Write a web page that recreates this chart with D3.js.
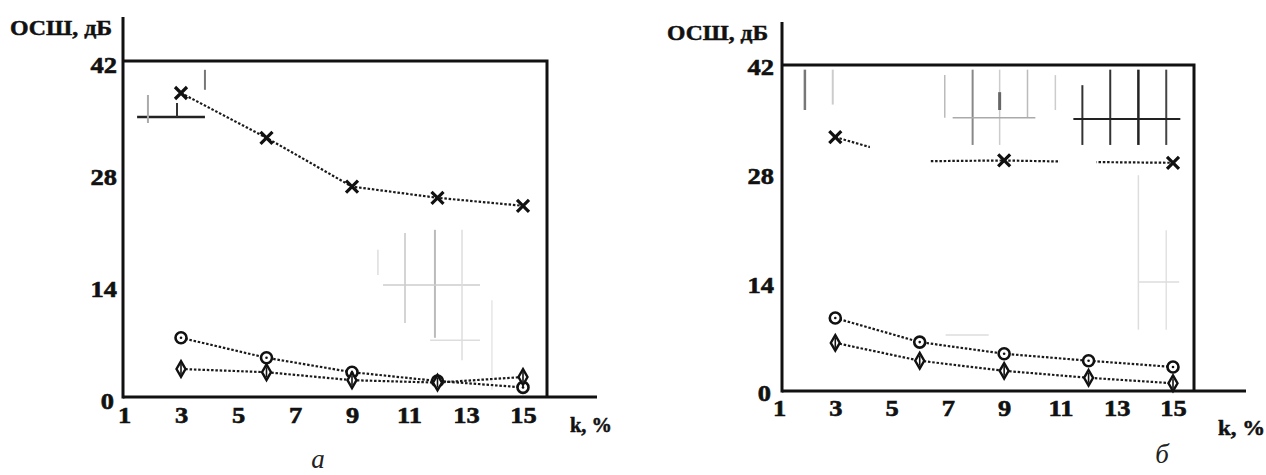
<!DOCTYPE html>
<html><head><meta charset="utf-8">
<script src="https://cdn.jsdelivr.net/npm/d3@7"></script>
<style>
body{margin:0;background:#fff}
svg{display:block}
</style>
</head><body>
<svg id="c" width="1266" height="475"></svg>
<script>
// ---- data ----
const kValues = [3, 6, 9, 12, 15];
const crossA   = [38.0, 32.4, 26.3, 24.9, 23.9];
const circleA  = [7.4, 4.9, 3.1, 2.0, 1.2];
const diamondA = [3.5, 3.1, 2.1, 1.8, 2.5];
const crossB   = [32.7, 29.6, 29.7, 29.5, 29.4];
const circleB  = [9.4, 6.3, 4.8, 3.9, 3.1];
const diamondB = [6.2, 3.9, 2.6, 1.7, 1.0];
const xTicks = [1, 3, 5, 7, 9, 11, 13, 15];
const yTicks = [0, 14, 28, 42];
const yTitle = "ОСШ, дБ";
const xTitle = "k, %";
const captions = ["а", "б"];
// visible k ranges of the scanned cross curve in panel б (gaps in the print)
const crossBVisible = [[2.5, 4.23], [6.35, 10.96], [12.28, 15.5]];
// faint scan remnants, in data units: [k1, v1, k2, v2, colour, width]
const scanA = [
  [1.46, 35, 3.84, 35, "#222", 2.5], [2.86, 35, 2.86, 36.75, "#333", 2],
  [1.84, 34.25, 1.84, 37.75, "#aaa", 2], [3.84, 38.4, 3.84, 40.9, "#777", 2],
  [10.86, 9.25, 10.86, 20.5, "#d4d4d4", 2], [11.91, 7.4, 11.91, 20.9, "#bbb", 2],
  [10.09, 14, 13.49, 14, "#ccc", 1.5], [11.74, 7.1, 13.49, 7.1, "#ddd", 1.5],
  [12.86, 4.6, 12.86, 20.9, "#ddd", 1.5], [9.91, 15.25, 9.91, 18.4, "#ddd", 1.5],
  [13.91, 0.9, 13.91, 12.1, "#e6e6e6", 1.5]
];
const scanB = [
  [1.92, 36.2, 1.92, 41.4, "#777", 2.5], [2.91, 36.9, 2.91, 41.4, "#ccc", 2],
  [6.89, 35.2, 6.89, 40.7, "#bbb", 1.5], [7.88, 31.7, 7.88, 41.4, "#888", 2],
  [8.84, 31.7, 8.84, 41.4, "#ccc", 1.5], [8.84, 36.2, 8.84, 38.5, "#666", 3],
  [9.83, 35.2, 9.83, 41.4, "#bbb", 1.5], [10.82, 36.2, 10.82, 40.7, "#ccc", 1.5],
  [11.78, 31.7, 11.78, 39.4, "#333", 2], [12.77, 31.7, 12.77, 41.4, "#333", 2],
  [13.77, 31.7, 13.77, 41.4, "#222", 2.5], [14.76, 31.7, 14.76, 41.4, "#444", 2],
  [7.17, 35.2, 10.11, 35.2, "#aaa", 1.5], [11.46, 35.05, 15.26, 35.05, "#222", 2],
  [13.77, 7.9, 13.77, 27.8, "#ddd", 1.5], [14.76, 7.9, 14.76, 20.7, "#e2e2e2", 1.5],
  [13.77, 14.05, 15.22, 14.05, "#ddd", 1.5], [6.92, 7.2, 8.45, 7.2, "#ddd", 1.5]
];

// ---- layout ----
const FONT = "'Liberation Serif', 'Times New Roman', 'DejaVu Serif', serif";
const panels = [
  {cross: crossA, circle: circleA, diamond: diamondA, scan: scanA, visible: null,
   ax: 123, k1: 124, k15: 523, xR: 547, xEnd: 597, y0: 397, yT: 61, axTop: 17,
   titleX: 10, titleY: 35, titleW: 102, xLabY: 26, yDy: "0.5em", yPad: 6,
   xtX: 570, xtY: 432, xtW: 42, capX: 318, capY: 468, cap: captions[0]},
  {cross: crossB, circle: circleB, diamond: diamondB, scan: scanB, visible: crossBVisible,
   ax: 782, k1: 779, k15: 1173, xR: 1194, xEnd: 1246, y0: 391, yT: 65, axTop: 22,
   titleX: 667, titleY: 40, titleW: 101, xLabY: 25, yDy: "0.42em", yPad: 8,
   xtX: 1218, xtY: 435, xtW: 47, capX: 1162, capY: 463, cap: captions[1]}
];

const svg = d3.select("#c");
const SX = 1.15;

panels.forEach((p, pi) => {
  const x = d3.scaleLinear().domain([1, 15]).range([p.k1, p.k15]);
  const y = d3.scaleLinear().domain([0, 42]).range([p.y0, p.yT]);
  const g = svg.append("g");

  // scan remnants
  g.selectAll("line.scan").data(p.scan).join("line")
    .attr("x1", d => x(d[0])).attr("y1", d => y(d[1]))
    .attr("x2", d => x(d[2])).attr("y2", d => y(d[3]))
    .attr("stroke", d => d[4]).attr("stroke-width", d => d[5]);

  // frame (top and right)
  g.append("path")
    .attr("d", `M${p.ax},${y(42)}H${p.xR}V${y(0)}`)
    .attr("fill", "none").attr("stroke", "#111").attr("stroke-width", 3);

  // axis lines
  g.append("line").attr("x1", p.ax).attr("x2", p.ax).attr("y1", y(0) + 1.5).attr("y2", p.axTop)
    .attr("stroke", "#111").attr("stroke-width", 3);
  g.append("line").attr("x1", p.ax).attr("x2", p.xEnd).attr("y1", y(0)).attr("y2", y(0))
    .attr("stroke", "#111").attr("stroke-width", 3);

  // y tick labels
  const ya = g.append("g").attr("transform", `translate(${p.ax},0)`)
    .call(d3.axisLeft(y).tickValues(yTicks).tickSize(0).tickFormat(d3.format("d")));
  ya.attr("font-family", null).attr("font-size", null);
  ya.select(".domain").remove();
  ya.selectAll("text")
    .attr("x", d => -(p.yPad + (d === 0 ? 3 : 0)) / SX).attr("dy", p.yDy)
    .attr("transform", `scale(${SX},1)`)
    .style("font-family", FONT)
    .style("font-size", "23px").style("font-weight", "bold")
    .attr("stroke", "#111").attr("stroke-width", 0.6).attr("fill", "#111");

  // x tick labels
  const xa = g.append("g").attr("transform", `translate(0,${y(0)})`)
    .call(d3.axisBottom(x).tickValues(xTicks).tickSize(0).tickFormat(d3.format("d")));
  xa.attr("font-family", null).attr("font-size", null);
  xa.select(".domain").remove();
  xa.selectAll("text")
    .attr("y", p.xLabY).attr("dy", 0)
    .attr("transform", `scale(${SX},1)`)
    .style("font-family", FONT)
    .style("font-size", "23px").style("font-weight", "bold")
    .attr("stroke", "#111").attr("stroke-width", 0.6).attr("fill", "#111");

  // titles
  g.append("text").attr("x", p.titleX).attr("y", p.titleY)
    .attr("textLength", p.titleW).attr("lengthAdjust", "spacingAndGlyphs")
    .style("font-family", FONT)
    .style("font-size", "22px").style("font-weight", "bold")
    .attr("fill", "#111").attr("stroke", "#111").attr("stroke-width", 0.5)
    .text(yTitle);
  g.append("text").attr("x", p.xtX).attr("y", p.xtY)
    .attr("textLength", p.xtW).attr("lengthAdjust", "spacingAndGlyphs")
    .style("font-family", FONT)
    .style("font-size", "22px").style("font-weight", "bold")
    .attr("fill", "#111").attr("stroke", "#111").attr("stroke-width", 0.5)
    .text(xTitle);
  g.append("text").attr("x", p.capX).attr("y", p.capY).attr("text-anchor", "middle")
    .style("font-family", FONT)
    .style("font-size", "27px").style("font-style", "italic")
    .attr("fill", "#222")
    .text(p.cap);

  const line = d3.line().x(d => x(d[0])).y(d => y(d[1]));
  const lineStyle = sel => sel.attr("fill", "none").attr("stroke", "#1a1a1a")
    .attr("stroke-width", 2.2).attr("stroke-dasharray", "2.5,1.8");

  // cross series (optionally clipped to visible ranges)
  const crossData = kValues.map((k, i) => [k, p.cross[i]]);
  let cg = g.append("g");
  if (p.visible) {
    const cid = "clipCross" + pi;
    const cp = svg.append("defs").append("clipPath").attr("id", cid);
    cp.selectAll("rect").data(p.visible).join("rect")
      .attr("x", d => x(d[0])).attr("width", d => x(d[1]) - x(d[0]))
      .attr("y", 0).attr("height", 475);
    cg.attr("clip-path", `url(#${cid})`);
  }
  cg.append("path").datum(crossData).attr("d", line).call(lineStyle);
  cg.selectAll("path.cross").data(crossData).join("path").attr("class", "cross")
    .attr("d", d => { const cx = x(d[0]), cy = y(d[1]), s = 6;
      return `M${cx - s},${cy - s}L${cx + s},${cy + s}M${cx - s},${cy + s}L${cx + s},${cy - s}`; })
    .attr("stroke", "#111").attr("stroke-width", 3.2).attr("fill", "none");

  // circle series
  const circData = kValues.map((k, i) => [k, p.circle[i]]);
  g.append("path").datum(circData).attr("d", line).call(lineStyle);
  g.selectAll("circle.circ").data(circData).join("circle").attr("class", "circ")
    .attr("cx", d => x(d[0])).attr("cy", d => y(d[1])).attr("r", 5.5)
    .attr("fill", "#fff").attr("stroke", "#111").attr("stroke-width", 2.6);
  g.selectAll("circle.cdot").data(circData).join("circle").attr("class", "cdot")
    .attr("cx", d => x(d[0])).attr("cy", d => y(d[1])).attr("r", 1.3).attr("fill", "#111");

  // diamond series
  const diaData = kValues.map((k, i) => [k, p.diamond[i]]);
  g.append("path").datum(diaData).attr("d", line).call(lineStyle);
  const dsym = d3.symbol().type(d3.symbolDiamond).size(70);
  g.selectAll("path.dia").data(diaData).join("path").attr("class", "dia")
    .attr("transform", d => `translate(${x(d[0])},${y(d[1])})`)
    .attr("d", dsym).attr("fill", "#fff").attr("stroke", "#111").attr("stroke-width", 2.4);
  g.selectAll("line.dtick").data(diaData).join("line").attr("class", "dtick")
    .attr("x1", d => x(d[0])).attr("x2", d => x(d[0]))
    .attr("y1", d => y(d[1]) - 5).attr("y2", d => y(d[1]) + 5)
    .attr("stroke", "#111").attr("stroke-width", 1.6);
});
</script>
</body></html>
